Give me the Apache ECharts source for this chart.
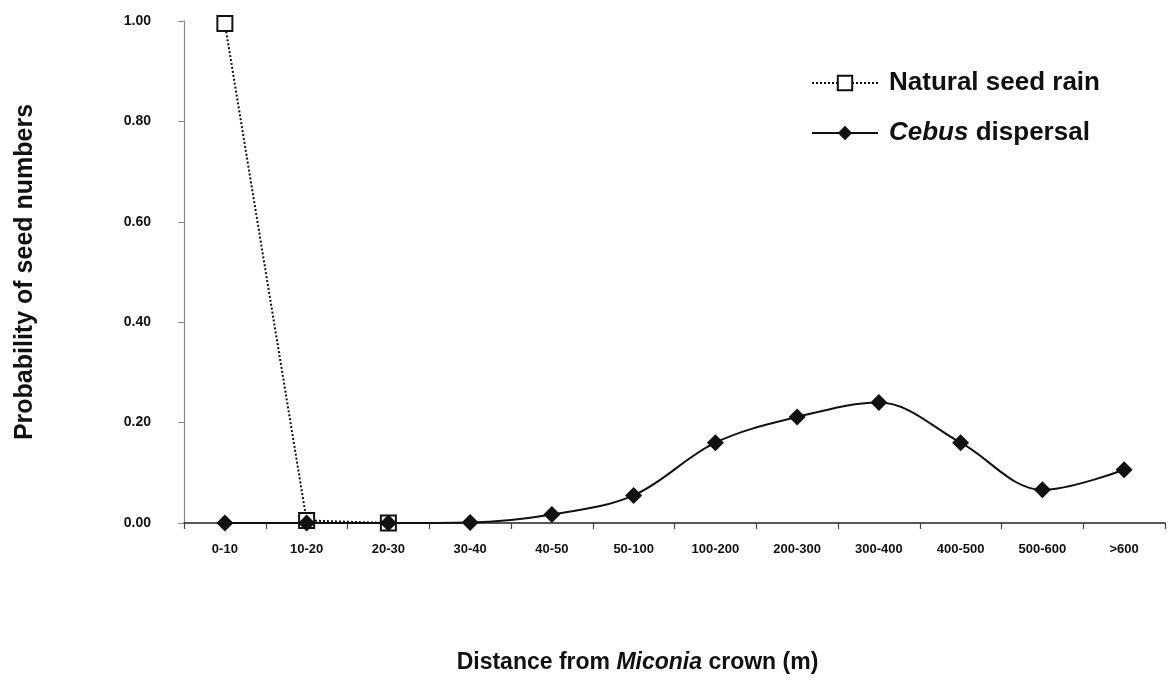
<!DOCTYPE html>
<html>
<head>
<meta charset="utf-8">
<script src="https://cdn.jsdelivr.net/npm/echarts@6/dist/echarts.min.js"></script>
<style>
  html, body { margin: 0; padding: 0; background: #fff; }
  #chart { width: 1169px; height: 685px; }
</style>
</head>
<body>
<div id="chart"></div>
<script>
// Distance classes from the Miconia crown
const categories = ['0-10', '10-20', '20-30', '30-40', '40-50', '50-100',
  '100-200', '200-300', '300-400', '400-500', '500-600', '>600'];

// Probability of seed numbers per distance class
const naturalSeedRain = [0.995, 0.005, 0.0, null, null, null, null, null, null, null, null, null];
const cebusDispersal = [0.0, 0.0, 0.0, 0.001, 0.017, 0.055, 0.160, 0.211, 0.240, 0.160, 0.066, 0.106];

// Y axis ticks
const yTicks = [0, 0.2, 0.4, 0.6, 0.8, 1.0];

const FONT = '"Liberation Sans", Arial, sans-serif';

const chart = echarts.init(document.getElementById('chart'), null, { renderer: 'canvas' });

chart.setOption({
  animation: false,
  backgroundColor: '#ffffff',
  grid: { left: 184, right: 4, top: 21, bottom: 162, containLabel: false },
  legend: {
    orient: 'vertical',
    left: 806,
    top: 65,
    itemGap: 24,
    itemWidth: 66,
    itemHeight: 18,
    data: ['Natural seed rain', 'Cebus dispersal'],
    formatter: function (name) {
      return name === 'Cebus dispersal'
        ? '{i|Cebus}{b| dispersal}'
        : '{b|Natural seed rain}';
    },
    textStyle: {
      fontFamily: FONT,
      fontSize: 26,
      fontWeight: 'bold',
      color: '#111',
      padding: [0, 0, 0, 6],
      rich: {
        b: { fontFamily: FONT, fontSize: 26, fontWeight: 'bold', color: '#111' },
        i: { fontFamily: FONT, fontSize: 26, fontWeight: 'bold', fontStyle: 'italic', color: '#111' }
      }
    }
  },
  xAxis: {
    type: 'category',
    data: categories,
    boundaryGap: true,
    name: '{b|Distance from }{i|Miconia}{b| crown (m)}',
    nameLocation: 'middle',
    nameGap: 128,
    nameTextStyle: {
      padding: [0, 74, 0, 0],
      rich: {
        b: { fontFamily: FONT, fontSize: 23, fontWeight: 'bold', color: '#111' },
        i: { fontFamily: FONT, fontSize: 23, fontWeight: 'bold', fontStyle: 'italic', color: '#111' }
      }
    },
    axisLine: { show: true, lineStyle: { color: '#222', width: 1.5 } },
    axisTick: { show: true, alignWithLabel: false, length: 6, inside: false, lineStyle: { color: '#444', width: 1.2 } },
    axisLabel: {
      margin: 20,
      fontFamily: FONT,
      fontSize: 13,
      fontWeight: 'bold',
      color: '#111',
      interval: 0
    },
    splitLine: { show: false }
  },
  yAxis: {
    type: 'value',
    min: 0,
    max: 1,
    interval: 0.2,
    name: 'Probability of seed numbers',
    nameLocation: 'middle',
    nameGap: 146,
    nameRotate: 90,
    nameTextStyle: { fontFamily: FONT, fontSize: 25, fontWeight: 'bold', color: '#111' },
    axisLine: { show: true, lineStyle: { color: '#888', width: 1.2 } },
    axisTick: { show: true, length: 6, inside: false, lineStyle: { color: '#888', width: 1 } },
    axisLabel: {
      margin: 33,
      fontFamily: FONT,
      fontSize: 14,
      fontWeight: 'bold',
      color: '#111',
      formatter: function (v) { return yTicks.indexOf(Math.round(v * 10) / 10) >= 0 ? v.toFixed(2) : ''; }
    },
    splitLine: { show: false }
  },
  series: [
    {
      name: 'Natural seed rain',
      type: 'line',
      data: naturalSeedRain,
      smooth: false,
      connectNulls: false,
      symbol: 'rect',
      symbolSize: 15,
      z: 2,
      lineStyle: { color: '#111', width: 2, type: [2, 2] },
      itemStyle: { color: '#ffffff', borderColor: '#111', borderWidth: 2 }
    },
    {
      name: 'Cebus dispersal',
      type: 'line',
      data: cebusDispersal,
      smooth: 0.35,
      symbol: 'diamond',
      symbolSize: 17,
      z: 3,
      lineStyle: { color: '#111', width: 2 },
      itemStyle: { color: '#111', borderColor: '#111', borderWidth: 0 }
    }
  ]
});
</script>
</body>
</html>
